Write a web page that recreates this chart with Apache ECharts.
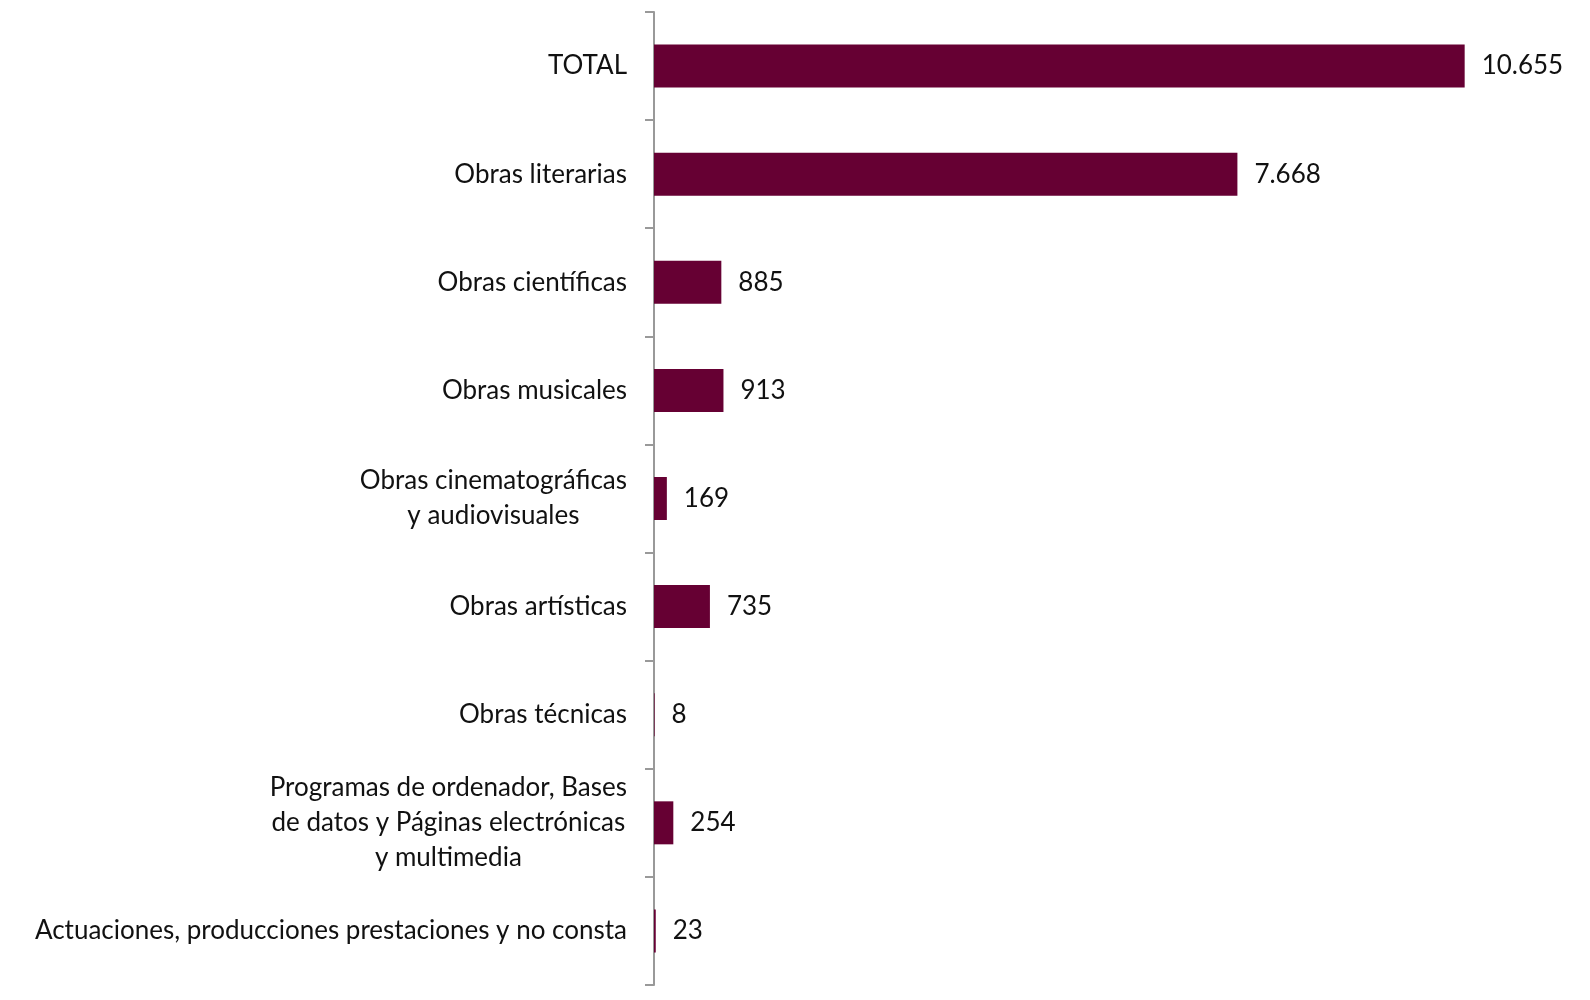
<!DOCTYPE html>
<html><head><meta charset="utf-8">
<script src="https://cdn.jsdelivr.net/npm/echarts@6/dist/echarts.min.js"></script>
<style>html,body{margin:0;padding:0;background:#fff}#c{width:1590px;height:1000px}</style>
</head><body><div id="c"></div>
<script>
const categories = [
  "TOTAL",
  "Obras literarias",
  "Obras científicas",
  "Obras musicales",
  "Obras cinematográficas\ny audiovisuales",
  "Obras artísticas",
  "Obras técnicas",
  "Programas de ordenador, Bases\nde datos y Páginas electrónicas\ny multimedia",
  "Actuaciones, producciones prestaciones y no consta"
];
const values = [10655, 7668, 885, 913, 169, 735, 8, 254, 23];

const fmt = v => String(v).replace(/\B(?=(\d{3})+(?!\d))/g, '.');
const chart = echarts.init(document.getElementById('c'));
chart.setOption({
  animation: false,
  textStyle: {fontFamily: 'Lato'},
  grid: {left: 654, right: 23, top: 12, bottom: 15, containLabel: false},
  xAxis: {type: 'value', min: 0, max: 12000, show: false},
  yAxis: {
    type: 'category', data: categories, inverse: true,
    axisLine: {show: true, lineStyle: {color: '#999', width: 2}},
    axisTick: {show: true, length: 9, lineStyle: {color: '#999', width: 2}},
    axisLabel: {
      margin: 27, fontSize: 26, color: '#111', fontFamily: 'Lato',
      formatter: v => v.split('\n').map(s => '{c|' + s + '}').join('\n'),
      rich: {c: {align: 'center', fontSize: 26, lineHeight: 35, fontFamily: 'Lato', color: '#111'}}
    }
  },
  series: [{
    type: 'bar', data: values, barWidth: 43,
    itemStyle: {color: '#660033'},
    label: {show: true, position: 'right', distance: 17, fontSize: 26, color: '#111',
      fontFamily: 'Lato', formatter: p => fmt(p.value)}
  }]
});
</script></body></html>
